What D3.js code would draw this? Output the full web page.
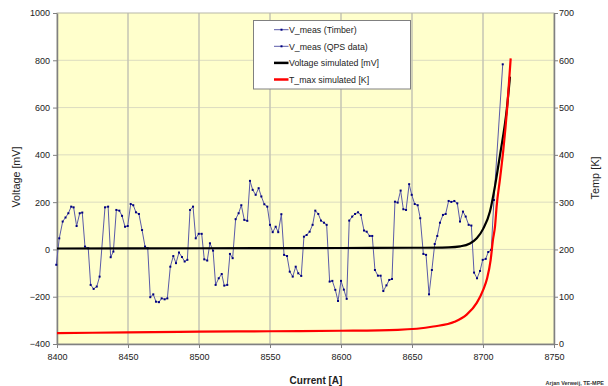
<!DOCTYPE html>
<html>
<head>
<meta charset="utf-8">
<script src="https://cdn.jsdelivr.net/npm/d3@7"></script>
<style>
  body { margin: 0; background: #fff; }
  text { font-family: 'Liberation Sans', Arial, sans-serif; }
</style>
</head>
<body>
<div id="chart"></div>
<script>
// measured voltage (Timber), current [A] / voltage [mV]
const timberCurrent = [8399.5, 8401.6, 8404, 8406, 8408, 8410, 8411.7, 8413.8, 8416, 8417.8, 8419.7, 8422, 8423.7, 8425.8, 8428, 8430,
  8433.8, 8436, 8437.8, 8439.7, 8441.8, 8443.9, 8445.8, 8447.9, 8449.8, 8451.9, 8453.7, 8455.6, 8457.7, 8459.9, 8462, 8463.9,
  8465.7, 8467.8, 8469.7, 8471.8, 8473.7, 8475.8, 8477.7, 8479.8, 8481.9, 8483.8, 8485.9, 8488, 8489.9, 8491.8, 8493.7, 8495.8,
  8497.7, 8499.8, 8501.9, 8503.7, 8505.8, 8507.7, 8509.9, 8511.7, 8513.9, 8516, 8517.8, 8519.9, 8521.8, 8523.7, 8525.8, 8527.9,
  8529.8, 8531.9, 8534, 8535.9, 8537.8, 8539.9, 8542, 8543.9, 8546, 8548.1, 8550, 8551.9, 8554, 8555.8, 8558, 8559.9,
  8562, 8563.9, 8566, 8568.1, 8569.9, 8572, 8573.9, 8575.8, 8577.9, 8580, 8581.9, 8584, 8585.9, 8588, 8589.9, 8592,
  8593.9, 8596, 8597.9, 8600, 8602, 8604, 8605.8, 8607.9, 8609.9, 8612, 8614, 8616.2, 8618.1, 8620.2, 8622, 8623.9,
  8626, 8627.9, 8629.8, 8632, 8634, 8635.9, 8638, 8639.9, 8642, 8643.9, 8645.8, 8648, 8649.8, 8651.9, 8654, 8655.8,
  8658, 8659.9, 8662, 8664, 8666, 8667.8, 8669.7, 8671.8, 8673.7, 8675.8, 8677.7, 8679.8, 8681.9, 8683.8, 8685.9, 8687.8,
  8689.9, 8691.8, 8693.7, 8695.8, 8697.9, 8699.8, 8701.9, 8703.7, 8705.8];
const timberVoltage = [-65, 47, 118, 135, 153, 181, 178, 99, 153, 156, 12, 5, -150, -167, -157, -115,
  178, 181, -33, -9, 167, 164, 142, 96, 99, 192, 187, 157, 150, 82, 12, 5,
  -202, -190, -221, -223, -207, -211, -207, -73, -28, -58, -13, -32, -51, -44, 167, 181,
  47, 66, 66, -42, -47, 26, -5, -150, -122, -104, -153, -150, -19, -37, 128, 153,
  187, 125, 121, 290, 252, 231, 259, 224, 191, 181, 104, 73, 96, 73, 149, -23,
  -28, -94, -115, -73, -101, -112, 54, 61, 75, 104, 164, 150, 122, 113, 104, -136,
  -133, -171, -218, -133, -170, -209, 122, 139, 150, 157, 146, 80, 75, 57, 57, -87,
  -111, -111, -176, -152, -129, -125, 202, 198, 249, 170, 167, 276, 231, 192, 187, 132,
  -19, -23, -190, -87, 23, 57, 113, 146, 150, 205, 201, 205, 195, 118, 160, 139,
  104, 101, -98, -122, -91, -44, -40, -11, -2];

// measured voltage (QPS data)
const qpsCurrent = [8705.8, 8707.7, 8713.9];
const qpsVoltage = [-2, 209, 783];

// simulated voltage [mV]
const simVCurrent = [8400, 8500, 8600, 8650, 8676, 8684, 8690.8, 8695.6, 8700.2, 8704.9, 8708.5, 8712, 8716.7, 8719];
const simVoltage = [4, 5, 6, 7, 9, 13, 25, 47, 88, 160, 270, 400, 590, 731];

// simulated T_max [K]
const simTCurrent = [8400, 8450, 8500, 8550, 8600, 8640, 8665, 8680, 8688.5, 8695.6, 8700.2, 8703, 8705.4, 8707, 8708.5, 8709.6, 8712, 8714.3, 8717.1, 8719.5];
const simTemp = [23, 24.5, 26, 27, 28, 30, 37, 47, 62, 87, 115, 140, 178, 220, 250, 291, 350, 410, 502, 604];

const xTicks = [8400, 8450, 8500, 8550, 8600, 8650, 8700, 8750];
const yTicks = [-400, -200, 0, 200, 400, 600, 800, 1000];
const tTicks = [0, 100, 200, 300, 400, 500, 600, 700];

const legendLabels = ['V_meas (Timber)', 'V_meas (QPS data)', 'Voltage simulated [mV]', 'T_max simulated [K]'];

const width = 608;
const height = 386;
const plot = { left: 57, right: 554, top: 13, bottom: 344 };

const svg = d3.select('#chart').append('svg')
  .attr('width', width).attr('height', height);

const x = d3.scaleLinear().domain([8400, 8750]).range([plot.left, plot.right]);
const y = d3.scaleLinear().domain([-400, 1000]).range([plot.bottom, plot.top]);
const yT = d3.scaleLinear().domain([0, 700]).range([plot.bottom, plot.top]);

// plot background
svg.append('rect')
  .attr('x', plot.left).attr('y', plot.top)
  .attr('width', plot.right - plot.left).attr('height', plot.bottom - plot.top)
  .attr('fill', '#ffffcc');

// grid
svg.append('g').selectAll('line').data(yTicks.slice(1, -1)).join('line')
  .attr('x1', plot.left).attr('x2', plot.right)
  .attr('y1', d => y(d)).attr('y2', d => y(d))
  .attr('stroke', '#dcdcc0').attr('stroke-width', 1);

svg.append('g').selectAll('line').data(xTicks.slice(1, -1)).join('line')
  .attr('x1', d => x(d)).attr('x2', d => x(d))
  .attr('y1', plot.top).attr('y2', plot.bottom)
  .attr('stroke', '#c4c4b4').attr('stroke-width', 1.5);

svg.append('rect')
  .attr('x', plot.left).attr('y', plot.top)
  .attr('width', plot.right - plot.left).attr('height', plot.bottom - plot.top)
  .attr('fill', 'none').attr('stroke', '#b8b8a8').attr('stroke-width', 1);

const styleAxis = g => {
  g.select('.domain').attr('stroke', '#808080').attr('stroke-width', 1.5);
  g.selectAll('.tick line').attr('stroke', '#808080');
  g.selectAll('.tick text').attr('fill', '#222').attr('font-size', 9)
    .attr('font-family', "'Liberation Sans', Arial, sans-serif");
};

svg.append('g')
  .attr('transform', `translate(0,${plot.bottom})`)
  .call(d3.axisBottom(x).tickValues(xTicks).tickFormat(d3.format('d')).tickSizeOuter(0).tickSizeInner(4).tickPadding(6))
  .call(styleAxis);

svg.append('g')
  .attr('transform', `translate(${plot.left},0)`)
  .call(d3.axisLeft(y).tickValues(yTicks).tickFormat(d3.format('d')).tickSizeOuter(0).tickSizeInner(4).tickPadding(3))
  .call(styleAxis);

svg.append('g')
  .attr('transform', `translate(${plot.right},0)`)
  .call(d3.axisRight(yT).tickValues(tTicks).tickFormat(d3.format('d')).tickSizeOuter(0).tickSizeInner(4).tickPadding(1))
  .call(styleAxis);

// data
const zip = (a, b) => a.map((d, i) => [d, b[i]]);
const timber = zip(timberCurrent, timberVoltage);
const qps = zip(qpsCurrent, qpsVoltage);
const simV = zip(simVCurrent, simVoltage);
const simT = zip(simTCurrent, simTemp);

const lineV = d3.line().x(d => x(d[0])).y(d => y(d[1]));
const lineSmoothV = d3.line().curve(d3.curveMonotoneX).x(d => x(d[0])).y(d => y(d[1]));
const lineSmoothT = d3.line().curve(d3.curveMonotoneX).x(d => x(d[0])).y(d => yT(d[1]));

const measColor = '#5a5aa8';
const markColor = '#000080';

[timber, qps].forEach(series => {
  svg.append('path')
    .datum(series)
    .attr('fill', 'none')
    .attr('stroke', measColor)
    .attr('stroke-width', 1)
    .attr('d', lineV);
  svg.append('g').selectAll('rect').data(series).join('rect')
    .attr('x', d => x(d[0]) - 1).attr('y', d => y(d[1]) - 1)
    .attr('width', 2).attr('height', 2)
    .attr('fill', markColor);
});

svg.append('path')
  .datum(simV)
  .attr('fill', 'none')
  .attr('stroke', '#000')
  .attr('stroke-width', 2.2)
  .attr('d', lineSmoothV);

svg.append('path')
  .datum(simT)
  .attr('fill', 'none')
  .attr('stroke', '#ff0000')
  .attr('stroke-width', 2.2)
  .attr('d', lineSmoothT);

// legend
const legend = svg.append('g');
legend.append('rect')
  .attr('x', 253.5).attr('y', 20.5).attr('width', 157).attr('height', 68.5)
  .attr('fill', '#fff').attr('stroke', '#808080').attr('stroke-width', 1);

const legendStyle = [
  { color: measColor, width: 1, mark: true },
  { color: measColor, width: 1, mark: true },
  { color: '#000', width: 2.5, mark: false },
  { color: '#ff0000', width: 2.5, mark: false }
];

legendLabels.forEach((label, i) => {
  const ly = 29.7 + i * 16.6;
  const s = legendStyle[i];
  legend.append('line')
    .attr('x1', 274).attr('x2', 288.5).attr('y1', ly).attr('y2', ly)
    .attr('stroke', s.color).attr('stroke-width', s.width);
  if (s.mark) {
    legend.append('rect')
      .attr('x', 280.5).attr('y', ly - 1).attr('width', 2).attr('height', 2)
      .attr('fill', markColor);
  }
  legend.append('text')
    .attr('x', 289).attr('y', ly + 3.2)
    .attr('font-size', 8.8).attr('fill', '#222')
    .text(label);
});

// axis titles
svg.append('text')
  .attr('x', 316).attr('y', 384)
  .attr('text-anchor', 'middle')
  .attr('font-size', 10).attr('font-weight', 'bold').attr('fill', '#222')
  .text('Current [A]');

svg.append('text')
  .attr('transform', 'translate(16.5,177) rotate(-90)')
  .attr('text-anchor', 'middle').attr('dy', '0.35em')
  .attr('font-size', 11).attr('fill', '#222')
  .attr('textLength', 61).attr('lengthAdjust', 'spacingAndGlyphs')
  .text('Voltage [mV]');

svg.append('text')
  .attr('transform', 'translate(595,178) rotate(-90)')
  .attr('text-anchor', 'middle').attr('dy', '0.35em')
  .attr('font-size', 11).attr('fill', '#222')
  .attr('textLength', 43).attr('lengthAdjust', 'spacingAndGlyphs')
  .text('Temp [K]');

svg.append('text')
  .attr('x', 604).attr('y', 385)
  .attr('text-anchor', 'end')
  .attr('font-size', 5.5).attr('font-weight', 'bold').attr('fill', '#333')
  .text('Arjan Verweij, TE-MPE');
</script>
</body>
</html>
